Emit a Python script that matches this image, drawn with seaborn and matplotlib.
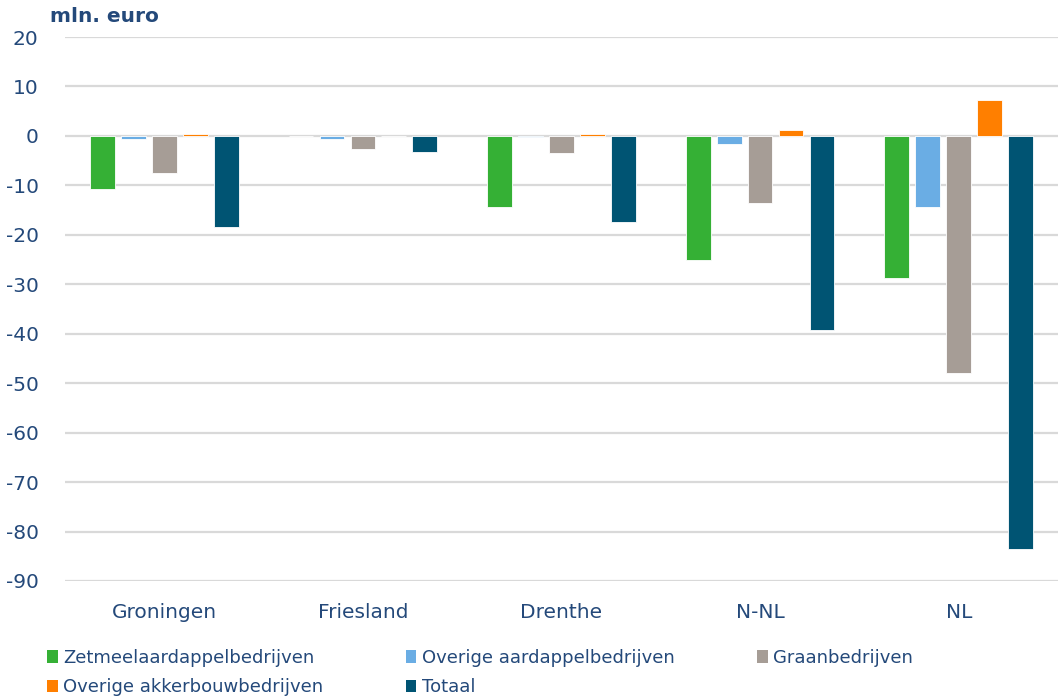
import matplotlib
matplotlib.use("Agg")
import matplotlib.pyplot as plt
from matplotlib.patches import Patch
import seaborn as sns
import pandas as pd

regions = ["Groningen", "Friesland", "Drenthe", "N-NL", "NL"]
series = ["Zetmeelaardappelbedrijven", "Overige aardappelbedrijven", "Graanbedrijven",
          "Overige akkerbouwbedrijven", "Totaal"]
zetmeel = [-10.7, 0.0, -14.3, -25.1, -28.8]
overige_aard = [-0.6, -0.6, -0.2, -1.6, -14.3]
graan = [-7.5, -2.6, -3.5, -13.5, -48.0]
overige_akker = [0.4, 0.0, 0.4, 1.1, 7.3]
totaal = [-18.5, -3.2, -17.5, -39.2, -83.6]
yticks = [20, 10, 0, -10, -20, -30, -40, -50, -60, -70, -80, -90]

colors = ["#35B035", "#6AADE4", "#A69D96", "#FF7F00", "#005473"]
text_color = "#24497A"

rows = []
for s, vals in zip(series, [zetmeel, overige_aard, graan, overige_akker, totaal]):
    for r, v in zip(regions, vals):
        rows.append({"regio": r, "reeks": s, "waarde": v})
df = pd.DataFrame(rows)

sns.set_theme(style="white")
plt.rcParams["font.family"] = ["DejaVu Sans"]

fig = plt.figure(figsize=(10.58, 6.96), dpi=100)
ax = fig.add_axes([65 / 1058, (696 - 581) / 696, (1058 - 65) / 1058, (581 - 37) / 696])

sns.barplot(data=df, x="regio", y="waarde", hue="reeks", order=regions, hue_order=series,
            palette=colors, saturation=1, width=0.78, gap=0.2, legend=False, ax=ax, zorder=3,
            linewidth=0.6, edgecolor="white")

ax.set_ylim(-90, 20)
ax.set_xlim(-0.5, len(regions) - 0.5)
ax.set_yticks(yticks)
ax.set_yticklabels([str(t) for t in yticks])
ax.yaxis.grid(True, color="#D9D9D9", linewidth=1.6, zorder=0)
ax.xaxis.grid(False)
for sp in ax.spines.values():
    sp.set_visible(False)
ax.set_xlabel("")
ax.set_ylabel("")
ax.tick_params(axis="y", length=0, pad=19, labelsize=14.5, labelcolor=text_color)
ax.tick_params(axis="x", length=0, pad=16, labelsize=14.5, labelcolor=text_color)
ax.set_axisbelow(True)

fig.text(50 / 1058, 1 - 16 / 696, "mln. euro", fontsize=14.5, fontweight="bold",
         color=text_color, ha="left", va="center")

handles = [Patch(facecolor=c, edgecolor="none", label=s) for s, c in zip(series, colors)]
order = [0, 3, 1, 4, 2]
leg = fig.legend([handles[i] for i in order], [series[i] for i in order], ncol=3,
                 loc="upper left", bbox_to_anchor=(47 / 1058, 1 - 649 / 696),
                 frameon=False, fontsize=13, handlelength=0.6, handleheight=0.7,
                 handletextpad=0.3, columnspacing=4.55, labelspacing=0.62, borderaxespad=0,
                 borderpad=0)
for t in leg.get_texts():
    t.set_color(text_color)

fig.savefig("out.png", dpi=100)
